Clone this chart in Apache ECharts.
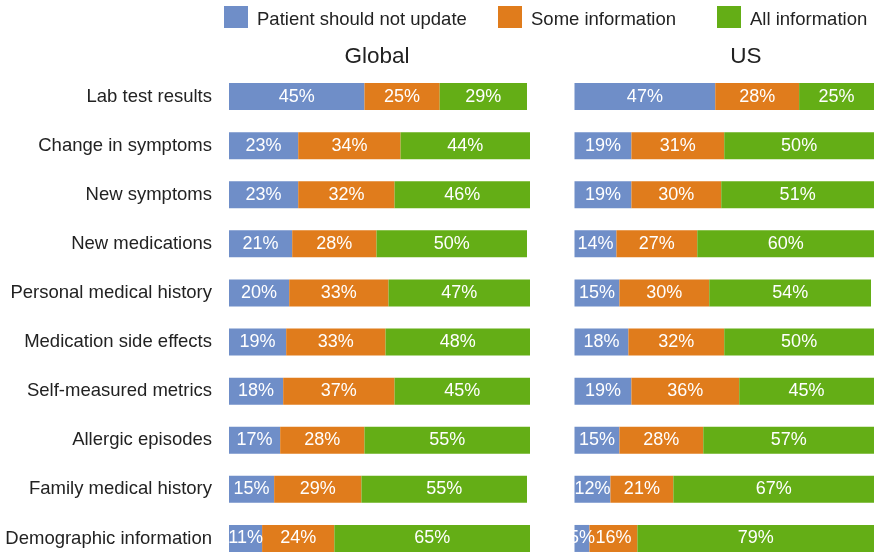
<!DOCTYPE html>
<html>
<head>
<meta charset="utf-8">
<script src="https://cdn.jsdelivr.net/npm/echarts@6/dist/echarts.min.js"></script>
<style>
  html, body { margin: 0; padding: 0; background: #fff; overflow: hidden; }
  #chart { width: 874px; height: 570px; }
</style>
</head>
<body>
<div id="chart"></div>
<script>
// Which health information patients should be allowed to update
const categories = [
  'Lab test results', 'Change in symptoms', 'New symptoms', 'New medications',
  'Personal medical history', 'Medication side effects', 'Self-measured metrics',
  'Allergic episodes', 'Family medical history', 'Demographic information'
];
const seriesNames = ['Patient should not update', 'Some information', 'All information'];
const panelTitles = ['Global', 'US'];

// Global responses (%)
const globalNotUpdate = [45, 23, 23, 21, 20, 19, 18, 17, 15, 11];
const globalSome      = [25, 34, 32, 28, 33, 33, 37, 28, 29, 24];
const globalAll       = [29, 44, 46, 50, 47, 48, 45, 55, 55, 65];

// US responses (%)
const usNotUpdate = [47, 19, 19, 14, 15, 18, 19, 15, 12, 5];
const usSome      = [28, 31, 30, 27, 30, 32, 36, 28, 21, 16];
const usAll       = [25, 50, 51, 60, 54, 50, 45, 57, 67, 79];

const colors = ['#6f8ec8', '#e07c1c', '#64ae16'];
const FONT = '"Liberation Sans", Arial, Helvetica, sans-serif';

const panels = [
  [globalNotUpdate, globalSome, globalAll],
  [usNotUpdate, usSome, usAll]
];

const chart = echarts.init(document.getElementById('chart'), null, { renderer: 'canvas' });

const series = [];
panels.forEach((panel, p) => {
  panel.forEach((values, s) => {
    series.push({
      name: seriesNames[s],
      type: 'bar',
      stack: 'panel' + p,
      xAxisIndex: p,
      yAxisIndex: p,
      barWidth: 27,
      clip: true,
      itemStyle: { color: colors[s] },
      label: {
        show: true,
        position: 'inside',
        color: '#ffffff',
        fontFamily: FONT,
        fontSize: 18,
        formatter: '{c}%'
      },
      data: values
    });
  });
});

const legendLefts = [224, 498, 717];

chart.setOption({
  animation: false,
  color: colors,
  textStyle: { fontFamily: FONT },
  title: panelTitles.map((t, i) => ({
    text: t,
    left: i === 0 ? 377 : 746,
    top: 45,
    padding: 0,
    textAlign: 'center',
    textStyle: { fontFamily: FONT, fontSize: 22.5, fontWeight: 'normal', color: '#222' }
  })),
  legend: seriesNames.map((n, i) => ({
    data: [n],
    left: legendLefts[i],
    top: 6,
    padding: 0,
    itemWidth: 24,
    itemHeight: 22,
    icon: 'rect',
    selectedMode: false,
    formatter: name => '{t|' + name + '}',
    textStyle: {
      fontFamily: FONT, fontSize: 18.5, color: '#222',
      rich: { t: { fontFamily: FONT, fontSize: 18.5, color: '#222', padding: [5, 0, 0, 4] } }
    }
  })),
  grid: [
    { left: 229, top: 72, width: 301, height: 491 },
    { left: 574.5, top: 72, width: 301, height: 491 }
  ],
  xAxis: [0, 1].map(i => ({
    type: 'value', gridIndex: i, min: 0, max: 100, show: false
  })),
  yAxis: [0, 1].map(i => ({
    type: 'category',
    gridIndex: i,
    data: categories,
    inverse: true,
    axisLine: { show: false },
    axisTick: { show: false },
    splitLine: { show: false },
    axisLabel: {
      show: i === 0,
      margin: 17,
      fontFamily: FONT,
      fontSize: 18.5,
      color: '#222'
    }
  })),
  series: series
});
</script>
</body>
</html>
